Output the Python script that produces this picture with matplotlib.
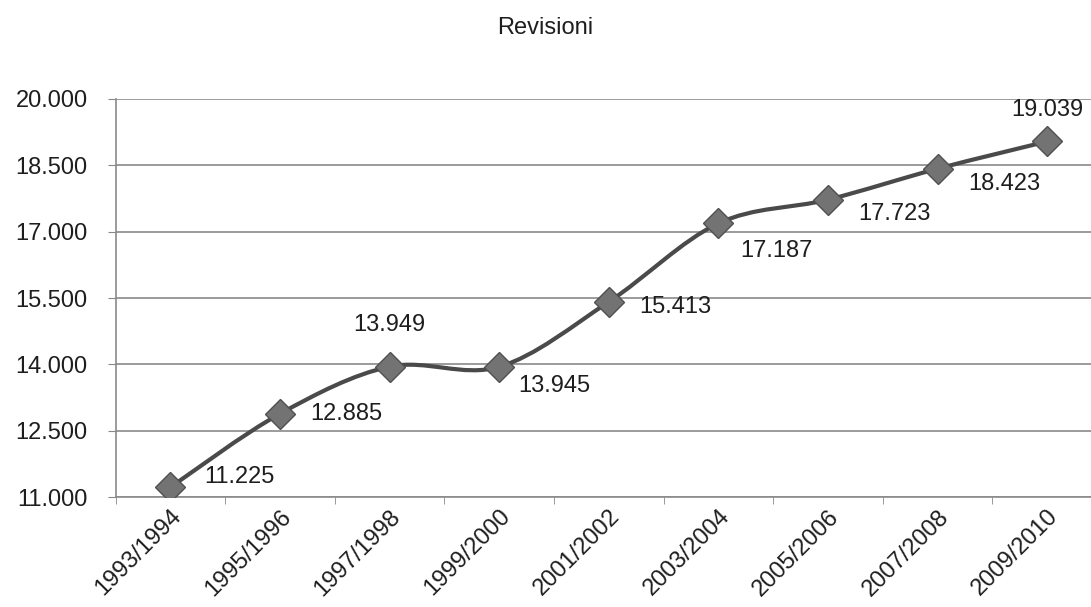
import numpy as np
import matplotlib
matplotlib.use("Agg")
import matplotlib.pyplot as plt
from matplotlib.path import Path
from matplotlib.patches import PathPatch
from matplotlib.ticker import FuncFormatter, FixedLocator

plt.rcParams['font.family'] = ['Liberation Sans', 'DejaVu Sans']

years = ["1993/1994", "1995/1996", "1997/1998", "1999/2000", "2001/2002",
         "2003/2004", "2005/2006", "2007/2008", "2009/2010"]
revisioni = [11225, 12885, 13949, 13945, 15413, 17187, 17723, 18423, 19039]
# label offsets in points (dx, dy) relative to each marker
label_offsets = [(50, 7), (48, 0), (0, 30), (40, -14), (48, -4),
                 (42, -20), (48, -10), (48, -11), (0, 23)]

fig = plt.figure(figsize=(10.91, 6.07), dpi=100)
ax = fig.add_axes([0.106, 0.181, 0.904, 0.656])

x = np.arange(len(years))
y = np.array(revisioni, dtype=float)

# smoothed line (cubic bezier segments through the points)
verts = [(x[0], y[0])]
codes = [Path.MOVETO]
n = len(x)
for i in range(n - 1):
    p0 = np.array([x[max(i - 1, 0)], y[max(i - 1, 0)]])
    p1 = np.array([x[i], y[i]])
    p2 = np.array([x[i + 1], y[i + 1]])
    p3 = np.array([x[min(i + 2, n - 1)], y[min(i + 2, n - 1)]])
    c1 = p1 + (p2 - p0) / 6
    c2 = p2 - (p3 - p1) / 6
    verts += [tuple(c1), tuple(c2), tuple(p2)]
    codes += [Path.CURVE4] * 3
ax.add_patch(PathPatch(Path(verts, codes), fill=False, edgecolor='#4a4a4a',
                       lw=3.0, zorder=3))

ax.plot(x, y, linestyle='none', marker='D', markersize=15,
        markerfacecolor='#737373', markeredgecolor='#505050',
        markeredgewidth=1.0, zorder=4)

for xi, yi, (dx, dy) in zip(x, y, label_offsets):
    txt = f"{int(yi):,}".replace(",", ".")
    ax.annotate(txt, (xi, yi), xytext=(dx, dy), textcoords='offset points',
                ha='center', va='center', fontsize=17, color='#1e1e1e')

ax.set_xlim(-0.5, len(years) - 0.5)
ax.set_ylim(11000, 20000)
ax.set_yticks(np.arange(11000, 20001, 1500))
ax.yaxis.set_major_formatter(FuncFormatter(lambda v, p: f"{int(v):,}".replace(",", ".")))
ax.set_xticks(x)
ax.set_xticklabels(years, rotation=45, ha='right', rotation_mode='anchor')
ax.xaxis.set_minor_locator(FixedLocator(np.arange(-0.5, len(years), 1.0)))
ax.tick_params(axis='x', which='major', length=0, pad=6, labelsize=17, labelcolor='#1e1e1e')
ax.tick_params(axis='x', which='minor', length=5, color='#888888', direction='out')
ax.tick_params(axis='y', length=6, color='#888888', labelsize=17, labelcolor='#1e1e1e', pad=14)

ax.grid(axis='y', color='#8a8a8a', lw=1.2)
ax.set_axisbelow(True)
for s in ['top', 'right']:
    ax.spines[s].set_visible(False)
ax.spines['left'].set_color('#8a8a8a')
ax.spines['bottom'].set_color('#8a8a8a')
ax.spines['left'].set_linewidth(1.2)
ax.spines['bottom'].set_linewidth(1.2)

fig.text(0.5, 1 - 28 / 607, "Revisioni", ha='center', va='center',
         fontsize=17, color='#1e1e1e')

fig.savefig("out.png", dpi=100, facecolor='white')
